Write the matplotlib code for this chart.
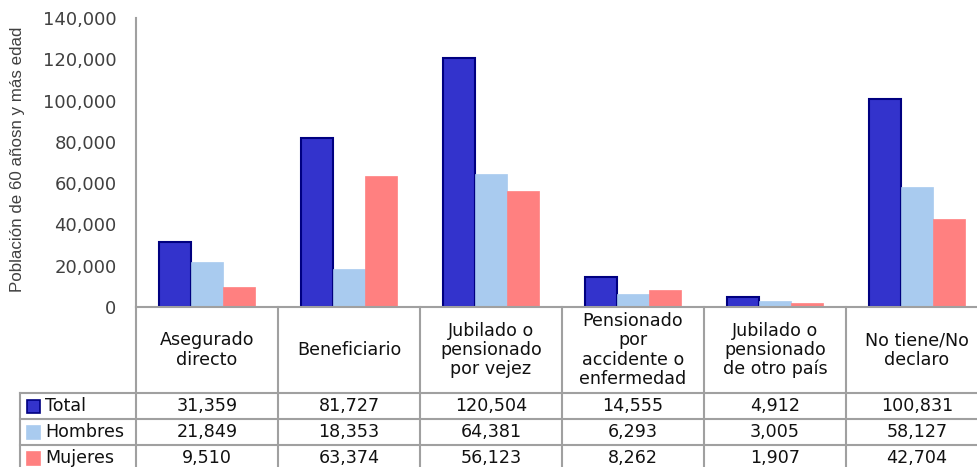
import matplotlib.pyplot as plt
import numpy as np
from matplotlib.lines import Line2D
from matplotlib.patches import Rectangle

categories = ["Asegurado\ndirecto", "Beneficiario", "Jubilado o\npensionado\npor vejez",
              "Pensionado\npor\naccidente o\nenfermedad", "Jubilado o\npensionado\nde otro país",
              "No tiene/No\ndeclaro"]
series_names = ["Total", "Hombres", "Mujeres"]
total = [31359, 81727, 120504, 14555, 4912, 100831]
hombres = [21849, 18353, 64381, 6293, 3005, 58127]
mujeres = [9510, 63374, 56123, 8262, 1907, 42704]

colors = ["#3333CC", "#A9CBEF", "#FF8080"]
edges = ["#000080", "#A9CBEF", "#FF8080"]
grid_c = "#A0A0A0"

W, H = 977, 467
fig = plt.figure(figsize=(W / 100, H / 100), dpi=100)

# pixel layout
left, right, top, base = 136, 988, 18, 307
ax = fig.add_axes([left / W, (H - base) / H, (right - left) / W, (base - top) / H])

x = np.arange(len(categories))
bw = 0.225
for i, vals in enumerate([total, hombres, mujeres]):
    ax.bar(x + (i - 1) * bw, vals, bw, color=colors[i], edgecolor=edges[i],
           linewidth=1.5 if i == 0 else 0.5, zorder=2)

ax.set_xlim(-0.5, len(categories) - 0.5)
ax.set_ylim(0, 140000)
ax.set_yticks(range(0, 140001, 20000))
ax.set_yticklabels([f"{v:,}" for v in range(0, 140001, 20000)])
ax.tick_params(axis="y", length=0, pad=14, labelsize=13, labelcolor="#404040")
ax.set_xticks([])
for s in ["top", "right"]:
    ax.spines[s].set_visible(False)
for s in ["left", "bottom"]:
    ax.spines[s].set_color(grid_c)
    ax.spines[s].set_linewidth(1.5)

fig.text(18 / W, 1 - 159 / H, "Población de 60 añosn y más edad", rotation=90,
         ha="center", va="center", fontsize=12.2, family="Liberation Sans", color="#404040")


def px(xp, yp):
    return xp / W, 1 - yp / H


def hline(x0, x1, y):
    (a, b), (c, d) = px(x0, y), px(x1, y)
    fig.add_artist(Line2D([a, c], [b, d], color=grid_c, lw=1.5))


def vline(xp, y0, y1):
    (a, b), (c, d) = px(xp, y0), px(xp, y1)
    fig.add_artist(Line2D([a, c], [b, d], color=grid_c, lw=1.5))


cw = (right - left) / len(categories)
row_tops = [393, 419, 445, 471]
bottom = 480
for k in range(len(categories) + 1):
    vline(left + k * cw, base, bottom)
vline(20, row_tops[0], bottom)
for yv in row_tops:
    hline(20, right + 5, yv)

for k, c in enumerate(categories):
    cx, cy = px(left + (k + 0.5) * cw, (base + row_tops[0]) / 2)
    fig.text(cx, cy, c, ha="center", va="center", fontsize=12.6, linespacing=1.08,
             color="#111111")

for r, (name, vals) in enumerate(zip(series_names, [total, hombres, mujeres])):
    yc = (row_tops[r] + row_tops[r + 1]) / 2
    sx, sy = px(27, yc + 6.5)
    fig.add_artist(Rectangle((sx, sy), 13 / W, 13 / H, facecolor=colors[r],
                             edgecolor=edges[r], lw=1.2, transform=fig.transFigure))
    tx, ty = px(45, yc)
    fig.text(tx, ty, name, ha="left", va="center", fontsize=12.6, color="#111111")
    for k, v in enumerate(vals):
        cx, cy = px(left + (k + 0.5) * cw, yc)
        fig.text(cx, cy, f"{v:,}", ha="center", va="center", fontsize=12.6, color="#111111")

fig.savefig("out.png", dpi=100)
